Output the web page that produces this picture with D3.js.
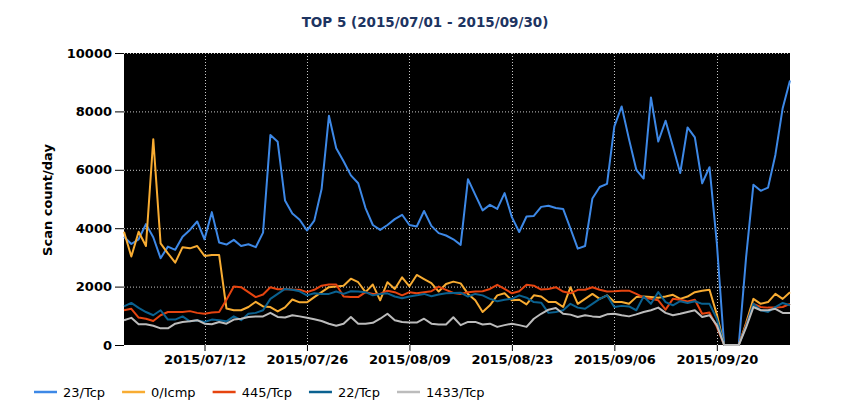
<!DOCTYPE html>
<meta charset="utf-8">
<style>
body { margin: 0; background: #fff; }
text { font-family: "DejaVu Sans", Verdana, sans-serif; }
.grid line { stroke: #c8c8c8; stroke-width: 1px; stroke-dasharray: 1,2; }
.series { fill: none; stroke-width: 2px; stroke-linejoin: round; }
.axis text { font-size: 13px; font-weight: bold; fill: #000; }
.axis line { stroke: #000; }
</style>
<body>
<script src="https://d3js.org/d3.v7.min.js"></script>
<script>

// chart data (one value per day, 2015/07/01 .. 2015/09/30)
var startDay = "2015-07-01";
var endDay = "2015-09-30";

var seriesNames = ["23/Tcp", "0/Icmp", "445/Tcp", "22/Tcp", "1433/Tcp"];
var seriesColors = ["#3d88e6", "#f8ac32", "#e6440f", "#0a6190", "#bcbcbc"];

var tcp23 = [3710, 3460, 3620, 4140, 3690, 2970, 3370, 3260, 3710, 3940,
  4230, 3620, 4550, 3510, 3440, 3600, 3390, 3450, 3350, 3850,
  7190, 6960, 4950, 4500, 4290, 3920, 4260, 5340, 7850, 6740,
  6290, 5810, 5540, 4690, 4110, 3940, 4110, 4310, 4460, 4110,
  4060, 4590, 4080, 3830, 3750, 3620, 3430, 5680, 5140, 4610,
  4800, 4660, 5200, 4380, 3870, 4400, 4420, 4730, 4770, 4690,
  4660, 3990, 3300, 3390, 5020, 5410, 5520, 7490, 8170, 7050,
  6000, 5700, 8480, 6970, 7680, 6800, 5890, 7450, 7110, 5540,
  6090, 3500, 0, 0, 0, 3000, 5490, 5280, 5390, 6510,
  8110, 9060];

var icmp0 = [3880, 3030, 3880, 3390, 7050, 3480, 3140, 2820, 3350, 3310,
  3390, 3050, 3080, 3080, 1250, 1190, 1190, 1300, 1480, 1320,
  1300, 1150, 1290, 1560, 1460, 1460, 1640, 1810, 1980, 2000,
  2030, 2270, 2150, 1810, 2070, 1530, 2150, 1920, 2320, 2010,
  2400, 2260, 2120, 1830, 2090, 2170, 2110, 1750, 1530, 1130,
  1360, 1700, 1770, 1530, 1550, 1390, 1700, 1660, 1470, 1470,
  1300, 1980, 1410, 1580, 1750, 1580, 1700, 1470, 1470, 1410,
  1640, 1660, 1640, 1620, 1660, 1720, 1580, 1660, 1810, 1860,
  1890, 1050, 0, 0, 0, 750, 1580, 1410, 1470, 1750,
  1580, 1810];

var tcp445 = [1190, 1240, 940, 900, 820, 1020, 1130, 1130, 1130, 1160,
  1100, 1070, 1110, 1130, 1550, 2000, 1980, 1810, 1640, 1730,
  1980, 1910, 1920, 1900, 1890, 1810, 1890, 2030, 2070, 2070,
  1660, 1640, 1640, 1810, 1750, 1750, 1860, 1810, 1700, 1810,
  1770, 1810, 1840, 2000, 1890, 1780, 1750, 1810, 1830, 1840,
  1920, 2060, 1920, 1770, 1840, 2060, 2030, 1900, 1920, 1980,
  1830, 1770, 1890, 1890, 1980, 1890, 1830, 1840, 1860, 1860,
  1750, 1620, 1580, 1530, 1210, 1580, 1550, 1490, 1550, 1070,
  1110, 620, 0, 0, 0, 700, 1410, 1300, 1280, 1280,
  1300, 1410];

var tcp22 = [1320, 1440, 1270, 1130, 1020, 1190, 870, 870, 980, 810,
  850, 790, 870, 850, 810, 980, 850, 1070, 1100, 1190,
  1580, 1750, 1920, 1890, 1840, 1700, 1770, 1750, 1750, 1830,
  1750, 1840, 1830, 1810, 1700, 1750, 1770, 1660, 1600, 1660,
  1700, 1750, 1670, 1730, 1770, 1780, 1790, 1660, 1750, 1700,
  1580, 1500, 1550, 1580, 1700, 1620, 1470, 1450, 1100, 1130,
  1190, 1410, 1280, 1240, 1410, 1580, 1700, 1300, 1340, 1320,
  1190, 1660, 1410, 1810, 1470, 1360, 1500, 1440, 1500, 1410,
  1410, 900, 0, 0, 0, 650, 1410, 1190, 1130, 1300,
  1440, 1360];

var tcp1433 = [850, 930, 710, 710, 660, 570, 570, 730, 790, 810,
  850, 730, 710, 790, 730, 870, 900, 960, 980, 980,
  1100, 960, 940, 1020, 980, 930, 880, 820, 730, 660,
  730, 960, 730, 730, 760, 900, 1070, 850, 790, 770,
  770, 900, 730, 700, 700, 950, 680, 790, 790, 700,
  730, 620, 680, 730, 680, 620, 900, 1070, 1210, 1270,
  1070, 1040, 960, 1020, 980, 960, 1050, 1070, 1020, 980,
  1050, 1130, 1190, 1280, 1100, 1020, 1070, 1130, 1190, 960,
  1020, 680, 0, 0, 0, 600, 1300, 1190, 1190, 1240,
  1100, 1100];

var yTicks = [0, 2000, 4000, 6000, 8000, 10000];
var xTickLabels = ["2015/07/12", "2015/07/26", "2015/08/09", "2015/08/23", "2015/09/06", "2015/09/20"];

// layout
var W = 850, H = 420;
var margin = {top: 53, right: 60, bottom: 75, left: 124},
    width = W - margin.left - margin.right,
    height = H - margin.top - margin.bottom;

var parseDay = d3.utcParse("%Y-%m-%d"),
    parseTick = d3.utcParse("%Y/%m/%d"),
    fmtTick = d3.utcFormat("%Y/%m/%d");

var start = parseDay(startDay), end = parseDay(endDay);

var x = d3.scaleUtc().domain([start, end]).range([0, width]);
var y = d3.scaleLinear().domain([0, 10000]).range([height, 0]);

var svg = d3.select("body").append("svg")
    .attr("width", W)
    .attr("height", H);

// title
svg.append("text")
    .attr("x", 425)
    .attr("y", 27)
    .attr("text-anchor", "middle")
    .style("font-size", "13.5px")
    .style("font-weight", "bold")
    .style("fill", "#1d3461")
    .text("TOP 5 (2015/07/01 - 2015/09/30)");

var g = svg.append("g")
    .attr("transform", "translate(" + margin.left + "," + margin.top + ")");

// black plot background
g.append("rect")
    .attr("width", width)
    .attr("height", height)
    .attr("fill", "#000");

var xTicks = xTickLabels.map(parseTick);

// dotted grid
var grid = g.append("g").attr("class", "grid");
grid.selectAll(".h")
    .data(yTicks.filter(function(d) { return d > 0; }))
  .enter().append("line")
    .attr("x1", 0).attr("x2", width)
    .attr("y1", function(d) { return y(d) + 0.5; })
    .attr("y2", function(d) { return y(d) + 0.5; });
grid.selectAll(".v")
    .data(xTicks)
  .enter().append("line")
    .attr("y1", 0).attr("y2", height)
    .attr("x1", function(d) { return Math.round(x(d)) + 0.5; })
    .attr("x2", function(d) { return Math.round(x(d)) + 0.5; });

// axes
var yAxis = g.append("g")
    .attr("class", "axis")
    .call(d3.axisLeft(y).tickValues(yTicks).tickSize(9).tickPadding(3).tickFormat(d3.format("d")));
yAxis.select(".domain").remove();

var xAxis = g.append("g")
    .attr("class", "axis")
    .attr("transform", "translate(0," + height + ")")
    .call(d3.axisBottom(x).tickValues(xTicks).tickSize(6).tickPadding(4).tickFormat(fmtTick));
xAxis.select(".domain").remove();

// y label
svg.append("text")
    .attr("transform", "translate(47," + 200 + ") rotate(-90)")
    .attr("text-anchor", "middle")
    .attr("dy", "0.35em")
    .style("font-size", "13px")
    .style("font-weight", "bold")
    .text("Scan count/day");

// lines
var allSeries = [tcp23, icmp0, tcp445, tcp22, tcp1433];

var line = d3.line()
    .x(function(d, i) { return x(d3.utcDay.offset(start, i)); })
    .y(function(d) { return y(d); });

g.selectAll(".series")
    .data(allSeries)
  .enter().append("path")
    .attr("class", "series")
    .attr("stroke", function(d, i) { return seriesColors[i]; })
    .attr("d", line);

// legend
var legend = svg.append("g").attr("transform", "translate(34,392)");
var lx = 0;
seriesNames.forEach(function(name, i) {
  var item = legend.append("g").attr("transform", "translate(" + lx + ",0)");
  item.append("line")
      .attr("x1", 0).attr("x2", 23)
      .attr("stroke", seriesColors[i])
      .attr("stroke-width", 2.5);
  var t = item.append("text")
      .attr("x", 29)
      .attr("dy", "0.35em")
      .style("font-size", "13px")
      .style("fill", "#000")
      .text(name);
  lx += 29 + t.node().getComputedTextLength() + 17;
});

</script>
</body>
